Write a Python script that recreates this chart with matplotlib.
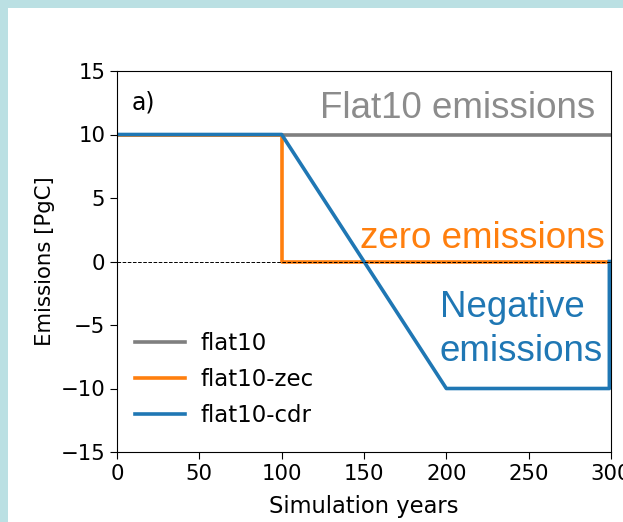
import matplotlib
matplotlib.use("Agg")
import matplotlib.pyplot as plt
from matplotlib.patches import Rectangle

# emission pathways (PgC / yr)
years_flat10 = [0, 300]
em_flat10 = [10, 10]
years_zec = [0, 100, 100, 300]
em_zec = [10, 10, 0, 0]
years_cdr = [0, 100, 200, 299, 299]
em_cdr = [10, 10, -10, -10, 0]

labels = ["flat10", "flat10-zec", "flat10-cdr"]
colors = ["tab:gray", "tab:orange", "tab:blue"]

W, H = 623, 522
fig = plt.figure(figsize=(W/100, H/100), dpi=100, facecolor="#bbe0e3")
# white page inside the light blue frame
fig.patches.append(Rectangle((8/W, 0), 1, (H-8)/H, transform=fig.transFigure,
                             facecolor="white", edgecolor="none", zorder=-1))

ax = fig.add_axes([117/W, (H-452)/H, (611-117)/W, (452-71)/H])

ax.plot(years_flat10, em_flat10, color=colors[0], lw=2.6, label=labels[0])
ax.plot(years_zec, em_zec, color=colors[1], lw=2.6, label=labels[1])
ax.plot(years_cdr, em_cdr, color=colors[2], lw=2.6, label=labels[2])
ax.axhline(0, color="k", ls="--", lw=0.7, zorder=5)

ax.set_xlim(0, 300)
ax.set_ylim(-15, 15)
ax.set_xticks(range(0, 301, 50))
ax.set_yticks(range(-15, 16, 5))
ax.tick_params(labelsize=15.3, length=5)
ax.set_xlabel("Simulation years", fontsize=16.3, labelpad=8)
ax.set_ylabel("Emissions [PgC]", fontsize=15.3)

ax.text(0.03, 0.95, "a)", transform=ax.transAxes, fontsize=17, va="top", ha="left")

ax.legend(loc="lower left", frameon=False, fontsize=16.5, handlelength=2.18,
          handletextpad=0.65, labelspacing=0.57, borderaxespad=0.4,
          bbox_to_anchor=(0.0, 0.0165))

ann = dict(family="Liberation Sans", fontsize=26.5, ha="left", va="baseline")
ax.text(123.3, 11.26, "Flat10 emissions", color="#8c8c8c", **ann)
ax.text(147.5, 1.1, "zero emissions", color="#ff7f0e", **ann)
ax.text(196, -4.4, "Negative", color="#1f77b4", **ann)
ax.text(196, -7.8, "emissions", color="#1f77b4", **ann)

fig.savefig("out.png", dpi=100, facecolor=fig.get_facecolor())
